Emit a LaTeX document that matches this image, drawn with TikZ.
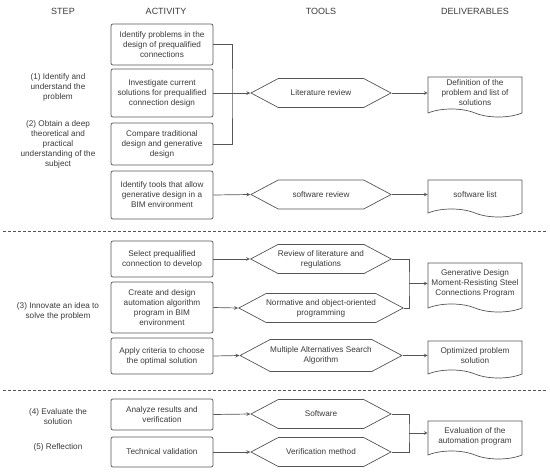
\documentclass[tikz,border=0pt]{standalone}
\usepackage{fontspec}
\setmainfont{Liberation Sans}
\usetikzlibrary{shapes.symbols}
\definecolor{lineGray}{HTML}{555555}
\definecolor{textGray}{HTML}{3A3A3A}

\begin{document}
\begin{tikzpicture}[>=stealth, x=1pt, y=-1pt, text=textGray,
  font=\fontsize{8.2}{10}\selectfont,
  head/.style={font=\fontsize{9}{11}\selectfont},
  stepText/.style={align=center},
  activity/.style={draw=lineGray, line width=0.7pt, rounded corners=2pt, minimum width=102pt, inner sep=0pt, align=center},
  tool/.style={draw=lineGray, line width=0.7pt, signal, signal to=east and west, signal pointer angle=56, minimum width=140pt, minimum height=29pt, inner sep=0pt, align=center},
  deliverable/.style={draw=lineGray, line width=0.7pt, tape, tape bend top=none, tape bend bottom=out and in, tape bend height=8pt, minimum width=94pt, inner sep=1pt, align=center},
  link/.style={draw=lineGray, line width=0.7pt},
  sep/.style={draw=lineGray, line width=0.6pt, dash pattern=on 3pt off 2pt}]

\useasboundingbox (0,0) rectangle (550,472);

\node [head] (stepHead) at (63,11) {STEP};
\node [head] (activityHead) at (166,11) {ACTIVITY};
\node [head] (toolsHead) at (321,11) {TOOLS};
\node [head] (deliverablesHead) at (475,11) {DELIVERABLES};

\node [stepText] (step1) at (58,87) {(1) Identify and\\understand the\\problem};
\node [stepText] (step2) at (58,144) {(2) Obtain a deep\\theoretical and\\practical\\understanding of the\\subject};
\node [stepText] (step3) at (58,311) {(3) Innovate an idea to\\solve the problem};
\node [stepText] (step4) at (58,417) {(4) Evaluate the\\solution};
\node [stepText] (step5) at (58,447) {(5) Reflection};

\node [activity, minimum height=41pt] (act1) at (162,44.5) {Identify problems in the\\design of prequalified\\connections};
\node [activity, minimum height=48pt] (act2) at (162,93) {Investigate current\\solutions for prequalified\\connection design};
\node [activity, minimum height=42pt] (act3) at (162,144) {Compare traditional\\design and generative\\design};
\node [activity, minimum height=48pt] (act4) at (162,195) {Identify tools that allow\\generative design in a\\BIM environment};
\node [activity, minimum height=36pt] (act5) at (162,259) {Select prequalified\\connection to develop};
\node [activity, minimum height=51pt] (act6) at (162,307.5) {Create and design\\automation algorithm\\program in BIM\\environment};
\node [activity, minimum height=36pt] (act7) at (162,356) {Apply criteria to choose\\the optimal solution};
\node [activity, minimum height=31pt] (act8) at (162,414.5) {Analyze results and\\verification};
\node [activity, minimum height=30pt] (act9) at (162,452) {Technical validation};

\node [tool] (litReview) at (321,93) {Literature review};
\node [tool] (swReview) at (321,194.5) {software review};
\node [tool] (regReview) at (321,259) {Review of literature and\\regulations};
\node [tool] (normProg) at (321,308) {Normative and object-oriented\\programming};
\node [tool, minimum height=32pt] (searchAlg) at (321,355.5) {Multiple Alternatives Search\\Algorithm};
\node [tool] (software) at (321,414) {Software};
\node [tool] (verifMethod) at (321,452) {Verification method};

\node [deliverable, minimum height=40pt] (defDoc) at (475,93) {Definition of the\\problem and list of\\solutions};
\node [deliverable, minimum height=37pt] (swList) at (475,194.5) {software list};
\node [deliverable, minimum height=49pt] (genDoc) at (475,283.5) {Generative Design\\Moment-Resisting Steel\\Connections Program};
\node [deliverable, minimum height=37pt] (optDoc) at (475,355.5) {Optimized problem\\solution};
\node [deliverable, minimum height=38pt] (evalDoc) at (475,436) {Evaluation of the\\automation program};

\foreach \y in {231,390}
  \draw [sep] (3,\y) -- (546,\y);

\coordinate (joinA) at (232,93);
\coordinate (joinB) at (409,283.5);
\coordinate (joinC) at (409,433);

\draw [link] (act1.east) -| (joinA) |- (act3.east);
\draw [link] (regReview.east) -| (joinB) |- (normProg.east);
\draw [link] (software.east) -| (joinC) |- (verifMethod.east);

\foreach \a/\t in {act2/litReview, act4/swReview, act5/regReview, act6/normProg, act7/searchAlg, act8/software, act9/verifMethod}
  \draw [link, ->] (\a.east) -- (\t.west);
\foreach \t/\d in {litReview/defDoc, swReview/swList, searchAlg/optDoc}
  \draw [link, ->] (\t.east) -- (\d.west |- \t.east);
\draw [link, ->] (joinB) -- (joinB -| genDoc.west);
\draw [link, ->] (joinC) -- (joinC -| evalDoc.west);

\end{tikzpicture}
\end{document}
